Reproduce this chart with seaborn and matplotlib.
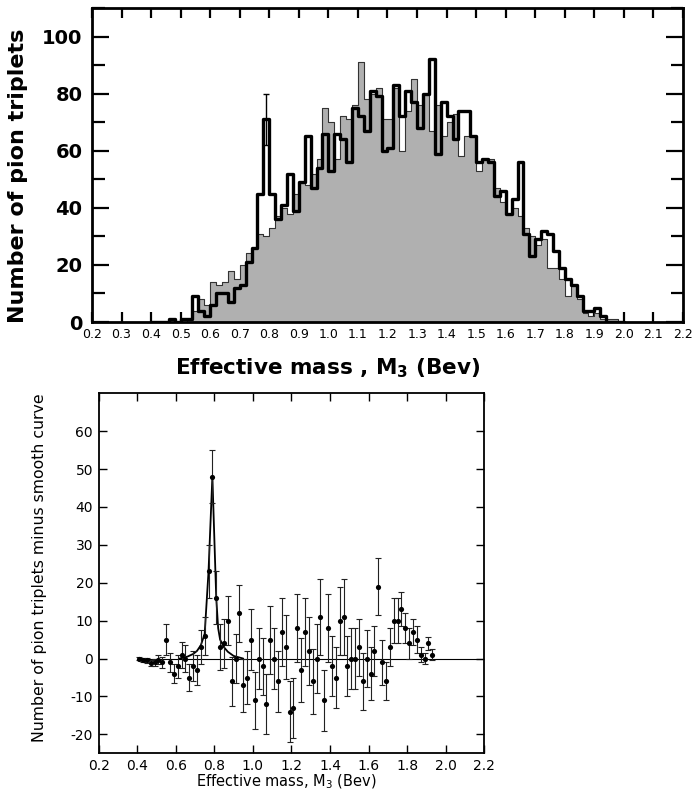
import matplotlib
matplotlib.use("Agg")
import matplotlib.pyplot as plt
import numpy as np
import pandas as pd
import seaborn as sns

# ---------------- data ----------------
mass_centers = [0.41, 0.43, 0.45, 0.47, 0.49, 0.51, 0.53, 0.55, 0.57, 0.59,
                0.61, 0.63, 0.65, 0.67, 0.69, 0.71, 0.73, 0.75, 0.77, 0.79,
                0.81, 0.83, 0.85, 0.87, 0.89, 0.91, 0.93, 0.95, 0.97, 0.99,
                1.01, 1.03, 1.05, 1.07, 1.09, 1.11, 1.13, 1.15, 1.17, 1.19,
                1.21, 1.23, 1.25, 1.27, 1.29, 1.31, 1.33, 1.35, 1.37, 1.39,
                1.41, 1.43, 1.45, 1.47, 1.49, 1.51, 1.53, 1.55, 1.57, 1.59,
                1.61, 1.63, 1.65, 1.67, 1.69, 1.71, 1.73, 1.75, 1.77, 1.79,
                1.81, 1.83, 1.85, 1.87, 1.89, 1.91, 1.93, 1.95, 1.97, 1.99]

# open (thick outline) histogram
open_counts = [0, 0, 0, 1, 0, 1, 1, 9, 4, 2,
               6, 10, 10, 7, 12, 13, 21, 26, 45, 71,
               45, 36, 41, 52, 39, 49, 65, 47, 54, 66,
               53, 66, 64, 56, 75, 72, 67, 81, 79, 60,
               61, 83, 72, 81, 77, 68, 80, 92, 59, 77,
               72, 64, 74, 74, 65, 56, 57, 56, 44, 46,
               38, 43, 56, 31, 23, 29, 32, 31, 25, 19,
               15, 13, 9, 4, 4, 5, 2, 0, 0, 0]

# shaded histogram
shaded_counts = [0, 0, 0, 0, 0, 0, 1, 4, 8, 6,
                 14, 13, 14, 18, 15, 20, 24, 26, 31, 30,
                 33, 37, 40, 38, 45, 49, 48, 52, 57, 75,
                 70, 57, 72, 71, 76, 91, 78, 80, 82, 71,
                 71, 82, 60, 74, 85, 76, 80, 67, 76, 65,
                 70, 73, 58, 65, 65, 53, 57, 57, 47, 42,
                 38, 40, 37, 33, 30, 27, 29, 19, 19, 15,
                 9, 13, 8, 3, 2, 3, 1, 1, 1, 0]

# error bar on the omega peak (top panel)
peak_mass = [0.79]
peak_count = [71]
peak_err = [9]

# bottom panel: number minus smooth curve
diff_mass = mass_centers[:77]
diff_vals = [0, -0.3, -0.5, -1.2, -1, -0.3, -1, 5, -1, -4,
             -2, 1, 0, -5, -2, -3, 3, 6, 23, 48,
             16, 3, 4, 10, -6, 0, 12, -7, -5, 5,
             -11, 0, -2, -12, 5, 0, -6, 7, 3, -14,
             -13, 8, -3, 7, 2, -6, 0, 11, -11, 8,
             -2, -5, 10, 11, -2, 0, 0, 3, -6, 0,
             -4, 2, 19, -1, -6, 3, 10, 10, 13, 8,
             4, 7, 5, 1, 0, 4, 1]
diff_err = [0.5, 0.5, 0.7, 0.8, 1.0, 1.2, 1.5, 4.0, 2.5, 2.5,
            3.0, 3.5, 3.5, 3.5, 4.0, 4.0, 4.5, 5.0, 7.0, 7.0,
            7.0, 6.0, 6.5, 6.5, 6.5, 6.5, 7.5, 7.0, 7.0, 8.0,
            7.5, 8.0, 7.5, 8.0, 9.0, 8.0, 8.0, 9.0, 8.5, 8.0,
            8.0, 9.0, 8.5, 9.0, 9.0, 8.5, 9.0, 10.0, 8.0, 9.0,
            8.0, 8.0, 9.0, 10.0, 8.0, 8.0, 8.0, 7.5, 7.5, 7.5,
            7.0, 6.5, 7.5, 6.0, 5.0, 5.0, 6.0, 6.0, 4.5, 4.0,
            4.0, 3.5, 3.5, 2.0, 1.5, 1.8, 1.5]

# resonance curve
curve_mass = [0.62, 0.66, 0.69, 0.71, 0.73, 0.75, 0.77, 0.79, 0.81, 0.82,
              0.83, 0.85, 0.87, 0.90, 0.95]
curve_vals = [0.0, 0.5, 1.2, 2.0, 3.5, 6.5, 23, 48, 16, 8,
              5, 3, 1.8, 0.7, 0.0]

top_xticks = [0.2, 0.3, 0.4, 0.5, 0.6, 0.7, 0.8, 0.9, 1.0, 1.1, 1.2,
              1.3, 1.4, 1.5, 1.6, 1.7, 1.8, 1.9, 2.0, 2.1, 2.2]
top_xlabels = ["0.2", "0.3", "0.4", "0.5", "0.6", "0.7", "0.8", "0.9", "1.0", "1.1", "1.2",
               "1.3", "1.4", "1.5", "1.6", "1.7", "1.8", "1.9", "2.0", "2.1", "2.2"]
top_yticks = [0, 20, 40, 60, 80, 100]
bot_xticks = [0.2, 0.4, 0.6, 0.8, 1.0, 1.2, 1.4, 1.6, 1.8, 2.0, 2.2]
bot_xlabels = ["0.2", "0.4", "0.6", "0.8", "1.0", "1.2", "1.4", "1.6", "1.8", "2.0", "2.2"]
bot_yticks = [-20, -10, 0, 10, 20, 30, 40, 50, 60]
bot_ylabels = ["-20", "-10", "0", "10", "20", "30", "40", "50", "60"]

# ---------------- plot ----------------
sns.set_theme(style="ticks")
plt.rcParams["font.family"] = ["DejaVu Sans"]
plt.rcParams["text.color"] = "black"
plt.rcParams["axes.labelcolor"] = "black"
plt.rcParams["xtick.color"] = "black"
plt.rcParams["ytick.color"] = "black"

fig = plt.figure(figsize=(6.98, 7.92), dpi=100)
fig.patch.set_facecolor("white")

ax1 = fig.add_axes([92 / 698, 1 - 322 / 792, 591 / 698, 314 / 792])
ax2 = fig.add_axes([98.6 / 698, 1 - 753.3 / 792, 385.7 / 698, 360 / 792])

half = 0.01
edges = [c - half for c in mass_centers] + [mass_centers[-1] + half]
df = pd.DataFrame({"mass": mass_centers, "open": open_counts, "shaded": shaded_counts})

sns.histplot(data=df, x="mass", weights="shaded", bins=edges, element="step",
             fill=True, color="#b0b0b0", alpha=1.0, edgecolor="#333333",
             linewidth=0.8, ax=ax1, zorder=2)
sns.histplot(data=df, x="mass", weights="open", bins=edges, element="step",
             fill=False, color="black", linewidth=2.4, ax=ax1, zorder=3)
ax1.errorbar(peak_mass, peak_count, yerr=peak_err, fmt="none", ecolor="black",
             elinewidth=1.0, capsize=2.5, capthick=1.0, zorder=4)

ax1.set_xlim(0.2, 2.2)
ax1.set_ylim(0, 110)
ax1.set_xticks(top_xticks)
ax1.set_xticklabels(top_xlabels, fontsize=9)
ax1.set_yticks(top_yticks)
ax1.set_yticklabels([str(v) for v in top_yticks], fontsize=14, fontweight="bold")
ax1.set_yticks([10, 30, 50, 70, 90, 110], minor=True)
ax1.tick_params(axis="y", which="major", direction="in", left=True, right=True,
                length=12, width=1.6, pad=7)
ax1.tick_params(axis="y", which="minor", direction="in", left=True, right=True,
                length=9, width=1.6)
ax1.tick_params(axis="x", which="major", direction="in", top=True, bottom=True,
                length=7, width=1.6, pad=4)
for s in ax1.spines.values():
    s.set_linewidth(2.0)
    s.set_color("black")
ax1.set_ylabel("Number of pion triplets", fontsize=16, fontweight="bold")
ax1.yaxis.set_label_coords(-0.125, 0.465)
ax1.yaxis.label.set(va="center", ha="center")
ax1.set_xlabel("Effective mass , M$_{\\mathbf{3}}$ (Bev)", fontsize=15.5, fontweight="bold")
ax1.xaxis.set_label_coords(0.398, -0.146)
ax1.xaxis.label.set(va="center", ha="center")

# bottom panel
ax2.axhline(0, xmin=(0.4 - 0.2) / 2.0, xmax=1.0, color="black", linewidth=0.8, zorder=1)
sns.lineplot(x=curve_mass, y=curve_vals, color="black", linewidth=1.3, ax=ax2, zorder=2)
ax2.errorbar(diff_mass, diff_vals, yerr=diff_err, fmt="none", ecolor="#222222",
             elinewidth=0.8, capsize=2.2, capthick=0.8, zorder=3)
sns.scatterplot(x=diff_mass, y=diff_vals, color="black", s=14, edgecolor="black",
                linewidth=0, ax=ax2, zorder=4)

ax2.set_xlim(0.2, 2.2)
ax2.set_ylim(-25, 70)
ax2.set_xticks(bot_xticks)
ax2.set_xticklabels(bot_xlabels, fontsize=10)
ax2.set_yticks(bot_yticks)
ax2.set_yticklabels(bot_ylabels, fontsize=10)
ax2.tick_params(direction="in", top=True, right=True, length=6, width=1.0, pad=4)
for s in ax2.spines.values():
    s.set_linewidth(1.3)
    s.set_color("black")
ax2.set_ylabel("Number of pion triplets minus smooth curve", fontsize=11.3)
ax2.yaxis.set_label_coords(-0.152, 0.515)
ax2.yaxis.label.set(va="center", ha="center")
ax2.set_xlabel("Effective mass, M$_3$ (Bev)", fontsize=10.5)
ax2.xaxis.set_label_coords(0.486, -0.079)
ax2.xaxis.label.set(va="center", ha="center")

fig.savefig("out.png", dpi=100, facecolor="white")
